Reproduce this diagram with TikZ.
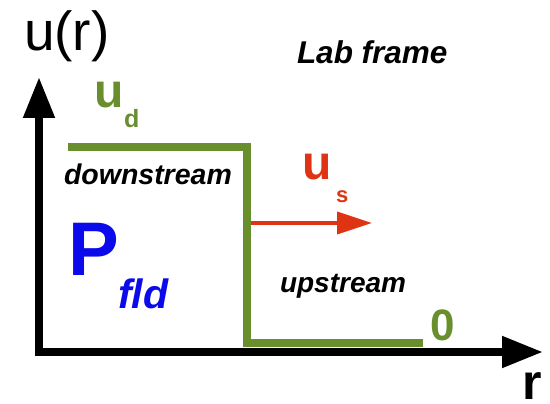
\documentclass[tikz,border=0pt]{standalone}
\usepackage{fontspec}
\setmainfont{Liberation Sans}
\usetikzlibrary{arrows.meta,calc}
\definecolor{grn}{RGB}{104,142,46}
\definecolor{redc}{RGB}{222,52,20}
\definecolor{bluec}{RGB}{10,10,235}
\tikzset{
  lbl/.style={inner sep=0pt, outer sep=0pt, anchor=base west},
  axis/.style={line width=8pt, -{Triangle[length=41pt,width=30pt]}},
  prof/.style={grn, line width=8pt},
}
\begin{document}
\begin{tikzpicture}[x=1pt,y=-1pt]
\useasboundingbox (0,0) rectangle (550,404);
% axes
\coordinate (o) at (39,352);
\coordinate (ytop) at (39,77);
\coordinate (xend) at (543,352);
\draw[prof] (68,147) coordinate (p1) -- (247,147) coordinate (p2) -- (247,343) coordinate (p3) -- (423,343) coordinate (p4);
\draw[axis] ($(o)+(0,4)$) -- (ytop);
\draw[axis] (35,352) -- (xend);
% shock velocity
\coordinate (s0) at (251,223);
\coordinate (s1) at (372,223);
\draw[redc, line width=4pt, -{Triangle[length=35pt,width=22pt]}] (s0) -- (s1);
% labels
\node[lbl] (ur) at (24,51) {\fontsize{55}{60}\selectfont u(r)};
\node[lbl] (lab) at (297,64) {\fontsize{31.5}{36}\selectfont\bfseries\itshape Lab frame};
\node[lbl] (down) at (64,185) {\fontsize{28.5}{32}\selectfont\bfseries\itshape downstream};
\node[lbl, text=grn] (ud) at (94,108) {\fontsize{48}{54}\selectfont\bfseries u};
\node[lbl, text=grn] (udsub) at (124,128) {\fontsize{25}{28}\selectfont\bfseries d};
\node[lbl, text=redc] (us) at (302,180) {\fontsize{48}{54}\selectfont\bfseries u};
\node[lbl, text=redc] (ussub) at (336,203) {\fontsize{22}{26}\selectfont\bfseries s};
\node[lbl, text=bluec] (P) at (68,275) {\fontsize{76}{80}\selectfont\bfseries P};
\node[lbl, text=bluec] (fld) at (118,308) {\fontsize{41}{46}\selectfont\bfseries\itshape fld};
\node[lbl] (up) at (280,292) {\fontsize{28}{32}\selectfont\bfseries\itshape upstream};
\node[lbl, text=grn] (zero) at (430,340) {\fontsize{44}{48}\selectfont\bfseries 0};
\node[lbl] (r) at (522,399) {\fontsize{50}{56}\selectfont\bfseries r};
\end{tikzpicture}
\end{document}
